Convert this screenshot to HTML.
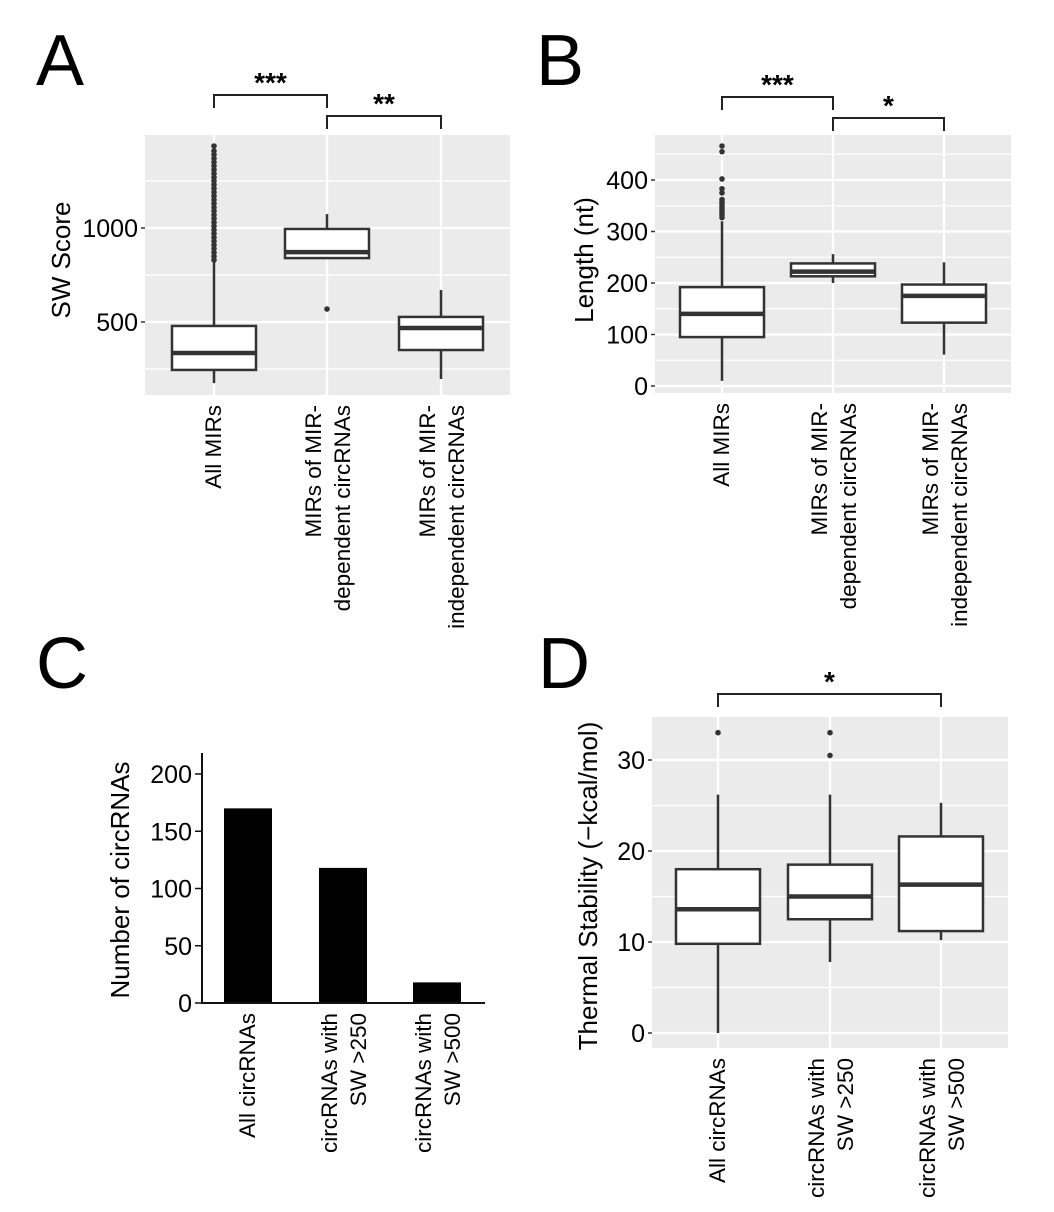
<!DOCTYPE html>
<html><head><meta charset="utf-8"><style>
html,body{margin:0;padding:0;background:#fff}
svg{display:block;font-family:"Liberation Sans",Arial,sans-serif}
</style></head><body>
<svg id="fig" width="1054" height="1212" viewBox="0 0 1054 1212" xmlns="http://www.w3.org/2000/svg">
<text x="36" y="85" font-size="72">A</text>
<text x="536" y="85" font-size="72">B</text>
<text x="36" y="688" font-size="72">C</text>
<text x="538" y="688" font-size="72">D</text>
</svg>
<script>
// ---- Panel A data ----
const aCategories = [["All MIRs"],["MIRs of MIR-","dependent circRNAs"],["MIRs of MIR-","independent circRNAs"]];
const aLow = [175, 840, 197];
const aQ1 = [245, 840, 351];
const aMed = [335, 872, 468];
const aQ3 = [479, 995, 527];
const aHigh = [823, 1074, 670];
const aOutliers = [[830,850,870,890,910,930,950,970,990,1010,1030,1050,1070,1090,1110,1130,1150,1170,1190,1210,1230,1250,1270,1290,1310,1330,1350,1370,1390,1410,1436],[569],[]];
const aTicks = [500, 1000];
const aMinor = [250, 750, 1250];
// ---- Panel B data ----
const bCategories = aCategories;
const bLow = [10, 200, 61];
const bQ1 = [95, 213, 123];
const bMed = [140, 222, 175];
const bQ3 = [192, 238, 197];
const bHigh = [320, 256, 240];
const bOutliers = [[327,332,337,342,347,352,357,362,375,383,402,455,466],[],[]];
const bTicks = [0, 100, 200, 300, 400];
const bMinor = [50, 150, 250, 350, 450];
// ---- Panel C data ----
const cCategories = [["All circRNAs"],["circRNAs with","SW >250"],["circRNAs with","SW >500"]];
const cCounts = [170, 118, 18];
const cTicks = [0, 50, 100, 150, 200];
// ---- Panel D data ----
const dCategories = cCategories;
const dLow = [0, 7.8, 10.2];
const dQ1 = [9.8, 12.5, 11.2];
const dMed = [13.6, 15.0, 16.3];
const dQ3 = [18.0, 18.5, 21.6];
const dHigh = [26.2, 26.2, 25.3];
const dOutliers = [[33],[33,30.5],[]];
const dTicks = [0, 10, 20, 30];
const dMinor = [5, 15, 25];

const NS = "http://www.w3.org/2000/svg";
const svg = document.getElementById('fig');
function mk(tag, attrs, parent){
  const e = document.createElementNS(NS, tag);
  for (const k in attrs) e.setAttribute(k, attrs[k]);
  (parent||svg).appendChild(e);
  return e;
}

function xLabels(g, cats, xs, yTop, prefix){
  cats.forEach((lines, i) => {
    const offs = lines.length === 1 ? [7] : [-6, 23];
    lines.forEach((ln, j) => {
      const t = mk('text', {transform:`translate(${xs[i]+offs[j]},${yTop}) rotate(-90)`, 'text-anchor':'end', 'font-size':22.5, fill:'#000'}, g);
      t.textContent = ln;
      
      
    });
  });
}

function boxPanel(cfg){
  const g = mk('g', {});
  
  
  const y = v => cfg.y0 - (v - cfg.v0) * cfg.k;
  const bg = mk('rect', {x:cfg.L, y:cfg.T, width:cfg.R-cfg.L, height:cfg.B-cfg.T, fill:'#ebebeb'}, g);
  
  
  cfg.minor.forEach(v => {
    const l = mk('line', {x1:cfg.L, x2:cfg.R, y1:y(v), y2:y(v), stroke:'#fff', 'stroke-width':1.2}, g);
    
    
  });
  cfg.ticks.forEach(v => {
    const l = mk('line', {x1:cfg.L, x2:cfg.R, y1:y(v), y2:y(v), stroke:'#fff', 'stroke-width':2.2}, g);
    
    
    const tk = mk('line', {x1:cfg.L-4, x2:cfg.L, y1:y(v), y2:y(v), stroke:'#333', 'stroke-width':1.5}, g);
    
    
    const t = mk('text', {x:cfg.L-7, y:y(v)+9, 'text-anchor':'end', 'font-size':25, fill:'#000'}, g);
    t.textContent = v;
    
    
  });
  cfg.xs.forEach(x => {
    const l = mk('line', {x1:x, x2:x, y1:cfg.T, y2:cfg.B, stroke:'#fff', 'stroke-width':2.2}, g);
    
    
  });
  const hw = 42;
  cfg.xs.forEach((x, i) => {
    const wl = mk('line', {x1:x, x2:x, y1:y(cfg.low[i]), y2:y(cfg.high[i]), stroke:'#333', 'stroke-width':2.5}, g);
    
    
    const bx = mk('rect', {x:x-hw, y:y(cfg.q3[i]), width:2*hw, height:y(cfg.q1[i])-y(cfg.q3[i]), fill:'#fff', stroke:'#333', 'stroke-width':2.5}, g);
    
    
    const md = mk('line', {x1:x-hw, x2:x+hw, y1:y(cfg.med[i]), y2:y(cfg.med[i]), stroke:'#333', 'stroke-width':4.5}, g);
    
    
    cfg.out[i].forEach(v => {
      const c = mk('circle', {cx:x, cy:y(v), r:2.8, fill:'#333'}, g);
      
      
    });
  });
  cfg.brackets.forEach(b => {
    const p = mk('path', {d:`M${cfg.xs[b.a]},${b.y+13} V${b.y} H${cfg.xs[b.b]} V${b.y+13}`, fill:'none', stroke:'#222', 'stroke-width':2}, g);
    
    
    const t = mk('text', {x:(cfg.xs[b.a]+cfg.xs[b.b])/2, y:b.y-3, 'text-anchor':'middle', 'font-size':28, 'font-weight':'bold', fill:'#000'}, g);
    t.textContent = b.s;
    
    
  });
  const yt = mk('text', {transform:`translate(${cfg.titleX},${cfg.titleY}) rotate(-90)`, 'text-anchor':'middle', 'font-size':26, fill:'#000'}, g);
  yt.textContent = cfg.title;
  
  
  xLabels(g, cfg.cats, cfg.xs, cfg.B + 10, cfg.name);
}

boxPanel({name:'panel-a', L:145, R:510, T:135, B:395, y0:322, v0:500, k:94/500,
  xs:[214,327,441], low:aLow, q1:aQ1, med:aMed, q3:aQ3, high:aHigh, out:aOutliers,
  ticks:aTicks, minor:aMinor, cats:aCategories, title:'SW Score', titleX:70, titleY:260,
  brackets:[{a:0,b:1,y:95,s:'***'},{a:1,b:2,y:116,s:'**'}]});
boxPanel({name:'panel-b', L:655, R:1011, T:135, B:393, y0:386, v0:0, k:0.515,
  xs:[722,833,944], low:bLow, q1:bQ1, med:bMed, q3:bQ3, high:bHigh, out:bOutliers,
  ticks:bTicks, minor:bMinor, cats:bCategories, title:'Length (nt)', titleX:593, titleY:260,
  brackets:[{a:0,b:1,y:97,s:'***'},{a:1,b:2,y:118,s:'*'}]});
boxPanel({name:'panel-d', L:652, R:1008, T:717, B:1048, y0:1033, v0:0, k:9.1,
  xs:[718,830,941], low:dLow, q1:dQ1, med:dMed, q3:dQ3, high:dHigh, out:dOutliers,
  ticks:dTicks, minor:dMinor, cats:dCategories, title:'Thermal Stability (\u2212kcal/mol)', titleX:597, titleY:886,
  brackets:[{a:0,b:2,y:694,s:'*'}]});

// Panel C bar chart
(function(){
  const g = mk('g', {});
  
  
  const base = 1003, k = 229/200, axX = 202;
  const y = v => base - v * k;
  const xs = [248, 343, 437], hw = 24;
  cCounts.forEach((v, i) => {
    const r = mk('rect', {x:xs[i]-hw, y:y(v), width:2*hw, height:base-y(v), fill:'#000'}, g);
    
    
  });
  const ax = mk('path', {d:`M${axX},753 V${base} H485`, fill:'none', stroke:'#111', 'stroke-width':2}, g);
  
  
  cTicks.forEach(v => {
    const tk = mk('line', {x1:axX-7, x2:axX, y1:y(v), y2:y(v), stroke:'#111', 'stroke-width':1.5}, g);
    
    
    const t = mk('text', {x:axX-10, y:y(v)+9, 'text-anchor':'end', 'font-size':25, fill:'#000'}, g);
    t.textContent = v;
    
    
  });
  const yt = mk('text', {transform:`translate(129,880) rotate(-90)`, 'text-anchor':'middle', 'font-size':26, fill:'#000'}, g);
  yt.textContent = 'Number of circRNAs';
  
  
  xLabels(g, cCategories, xs, 1013, 'panel-c');
})();
</script>
</body></html>
